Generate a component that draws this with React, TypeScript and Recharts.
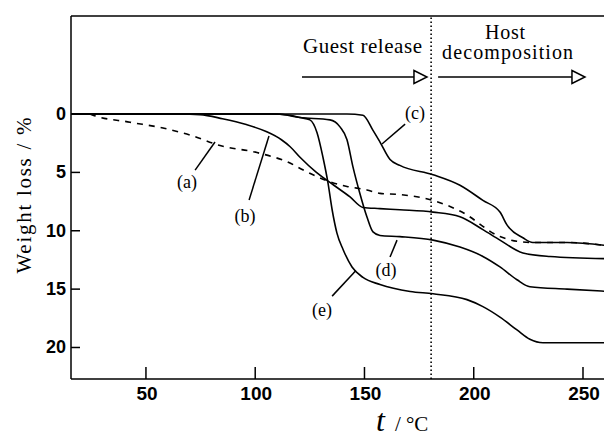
import React from 'react';
import { LineChart, Line, XAxis, YAxis, ReferenceLine, ReferenceDot } from 'recharts';

// ---- data (t / °C, weight loss / %) ----
const X_TICKS = [50, 100, 150, 200, 250];
const Y_TICKS = [0, 5, 10, 15, 20];

const A_T = [24.4, 25.8, 42.7, 57.8, 70.2, 83.9, 100.8, 115.9, 122, 134.2, 142, 151.1, 157.1, 166.2, 181.4, 194.6, 212, 219.8, 227, 242.7, 262];
const A_W = [0, 0.1, 0.7, 1.2, 1.8, 2.7, 3.3, 4.2, 4.8, 5.8, 6.2, 6.5, 6.8, 6.9, 7.4, 8.4, 10.5, 10.9, 11.0, 11.0, 11.3];

const B_T = [16, 65.6, 74.7, 85, 95.9, 105, 112, 116, 120.5, 128, 136, 143.4, 149.3, 157, 166.2, 181.4, 193.7, 204.2, 212, 222.5, 234.9, 262];
const B_W = [0, 0, 0.05, 0.4, 0.9, 1.5, 2.2, 2.8, 3.7, 5.0, 6.1, 7.1, 8.0, 8.1, 8.2, 8.4, 8.8, 9.9, 10.8, 11.9, 12.2, 12.4];

const C_T = [16, 142, 149.3, 153.9, 157.1, 161.7, 166.2, 181.4, 193.7, 204.2, 212, 215.2, 222.5, 227, 242.7, 262];
const C_W = [0, 0, 0.1, 1.4, 2.4, 3.9, 4.4, 5.2, 6.1, 7.4, 8.4, 9.5, 10.6, 11.0, 11.0, 11.3];

const D_T = [16, 110, 120.5, 134.2, 138.8, 142, 144.7, 147.9, 151.1, 153.9, 157.1, 166.2, 181.4, 193.7, 204.2, 212, 219.8, 225.7, 242.7, 262];
const D_W = [0, 0, 0.3, 0.5, 1.1, 2.2, 4.5, 6.8, 8.8, 10.1, 10.4, 10.5, 10.8, 11.4, 12.2, 13.1, 14.2, 14.8, 15.0, 15.2];

const E_T = [16, 106.8, 115.9, 120.5, 125, 128.3, 131, 133.3, 135.2, 137.4, 140.2, 144.3, 149.3, 157.1, 170.9, 181.4, 196.9, 204.2, 212, 219.8, 225.7, 231.7, 262];
const E_W = [0, 0, 0.1, 0.3, 0.5, 1.6, 3.7, 5.9, 8.2, 10.2, 11.6, 13.1, 14.0, 14.6, 15.2, 15.4, 15.9, 16.5, 17.4, 18.5, 19.3, 19.6, 19.6];

// annotation anchors in data coordinates
const CURVE_LABELS = [
  { text: '(a)', t: 68.8, w: 5.83, lt1: 72.5, lw1: 4.8, lt2: 81.6, lw2: 2.4 },
  { text: '(b)', t: 95.3, w: 8.7, lt1: 97.2, lw1: 7.37, lt2: 106.3, lw2: 1.88 },
  { text: '(c)', t: 173.1, w: -0.09, lt1: 168.6, lw1: 0.86, lt2: 158.0, lw2: 2.57 },
  { text: '(d)', t: 159.9, w: 13.37, lt1: 161.7, lw1: 12.25, lt2: 164.9, lw2: 10.8 },
  { text: '(e)', t: 130.6, w: 16.8, lt1: 135.2, lw1: 15.6, lt2: 146.1, lw2: 13.4 },
];
const TOP_TEXTS = [
  { text: 'Guest release', t: 149.1, w: -5.23, len: 119, size: 21 },
  { text: 'Host', t: 214.3, w: -6.4, len: 40, size: 20 },
  { text: 'decomposition', t: 215.5, w: -4.71, len: 131, size: 20 },
];
const ARROWS = [
  { t1: 121.4, t2: 178.6, w: -3.17 },
  { t1: 183.7, t2: 250.9, w: -3.17 },
];
const DIVIDER_T = 180.5;
const X_DOMAIN: [number, number] = [15.7, 261.9];
const Y_DOMAIN: [number, number] = [-8.4, 22.7];

const toPts = (ts: number[], ws: number[]) => ts.map((t, i) => ({ t, w: ws[i] }));

const SERIF = '"Liberation Serif", "Times New Roman", serif';
const SANS = '"Liberation Sans", Arial, sans-serif';

const XTick = (p: any) => (
  <g>
    <line x1={p.x} y1={p.y} x2={p.x} y2={p.y - 12} stroke="#000" strokeWidth={1.5} />
    <text x={p.x + 1} y={p.y + 21} textAnchor="middle" fontFamily={SANS} fontSize={19} fontWeight="bold" fill="#000">
      {p.payload.value}
    </text>
  </g>
);

const YTick = (p: any) => (
  <g>
    <line x1={p.x} y1={p.y} x2={p.x + 9} y2={p.y} stroke="#000" strokeWidth={1.5} />
    <text x={p.x - 5} y={p.y} textAnchor="end" dominantBaseline="central" fontFamily={SANS} fontSize={18} fontWeight="bold" fill="#000">
      {p.payload.value}
    </text>
  </g>
);

const YLabel = (p: any) => {
  const vb = p.viewBox || p;
  const cx = vb.x + 24;
  const cy = vb.y + vb.height / 2 - 2;
  return (
    <text x={cx} y={cy} transform={`rotate(-90, ${cx}, ${cy})`} textAnchor="middle" dominantBaseline="central"
      fontFamily={SERIF} fontSize={21} fill="#000" textLength={156} lengthAdjust="spacing">
      Weight loss / %
    </text>
  );
};

const XLabel = (p: any) => {
  const vb = p.viewBox || p;
  const x = vb.x + 305;
  const y = vb.y + 52;
  return (
    <text x={x} y={y} fontFamily={SERIF} fill="#000">
      <tspan fontStyle="italic" fontSize={32}>t</tspan>
      <tspan fontSize={21} dx={10}>/ °C</tspan>
    </text>
  );
};

const arrowShape = (p: any) => (
  <g>
    <line x1={p.x1} y1={p.y1} x2={p.x2 - 13} y2={p.y2} stroke="#000" strokeWidth={1.5} />
    <polygon points={`${p.x2 - 13},${p.y2 - 6.5} ${p.x2},${p.y2} ${p.x2 - 13},${p.y2 + 6.5}`} fill="#fff" stroke="#000" strokeWidth={1.5} />
  </g>
);

export default function App() {
  const lineProps = { type: 'monotone' as const, dataKey: 'w', stroke: '#000', strokeWidth: 1.6, dot: false, isAnimationActive: false };
  return (
    <div style={{ position: 'absolute', left: 0, top: 0, width: 604, height: 437, overflow: 'hidden', background: '#fff' }}>
      <LineChart width={612} height={437} margin={{ top: 16, right: 3, bottom: 0, left: 0 }}>
        <XAxis type="number" dataKey="t" domain={X_DOMAIN} ticks={X_TICKS} allowDataOverflow height={58}
          tickSize={0} tickMargin={0} tick={XTick} axisLine={{ stroke: '#000', strokeWidth: 1.5 }} tickLine={false}
          label={XLabel} />
        <YAxis type="number" dataKey="w" domain={Y_DOMAIN} ticks={Y_TICKS} reversed allowDataOverflow width={71}
          tickSize={0} tickMargin={0} tick={YTick} axisLine={{ stroke: '#000', strokeWidth: 1.5 }} tickLine={false}
          label={YLabel} />
        <ReferenceLine y={Y_DOMAIN[0]} stroke="#000" strokeWidth={1.5} />
        <ReferenceLine x={DIVIDER_T} stroke="#000" strokeWidth={1.6} strokeDasharray="1.5 2.5" />
        <Line {...lineProps} data={toPts(A_T, A_W)} strokeDasharray="6 6" />
        <Line {...lineProps} data={toPts(B_T, B_W)} />
        <Line {...lineProps} data={toPts(C_T, C_W)} />
        <Line {...lineProps} data={toPts(D_T, D_W)} />
        <Line {...lineProps} data={toPts(E_T, E_W)} />
        {CURVE_LABELS.map((c) => (
          <ReferenceLine key={'l' + c.text} segment={[{ x: c.lt1, y: c.lw1 }, { x: c.lt2, y: c.lw2 }]} stroke="#000" strokeWidth={1.5} />
        ))}
        {CURVE_LABELS.map((c) => (
          <ReferenceDot key={'d' + c.text} x={c.t} y={c.w} r={1}
            shape={(p: any) => (
              <text x={p.cx} y={p.cy} textAnchor="middle" dominantBaseline="central" fontFamily={SERIF} fontSize={18} fill="#000">{c.text}</text>
            )} />
        ))}
        {TOP_TEXTS.map((c) => (
          <ReferenceDot key={c.text} x={c.t} y={c.w} r={1}
            shape={(p: any) => (
              <text x={p.cx} y={p.cy} textAnchor="middle" fontFamily={SERIF} fontSize={c.size} fill="#000" textLength={c.len} lengthAdjust="spacing">{c.text}</text>
            )} />
        ))}
        {ARROWS.map((a, i) => (
          <ReferenceLine key={'a' + i} segment={[{ x: a.t1, y: a.w }, { x: a.t2, y: a.w }]} shape={arrowShape} />
        ))}
      </LineChart>
    </div>
  );
}
